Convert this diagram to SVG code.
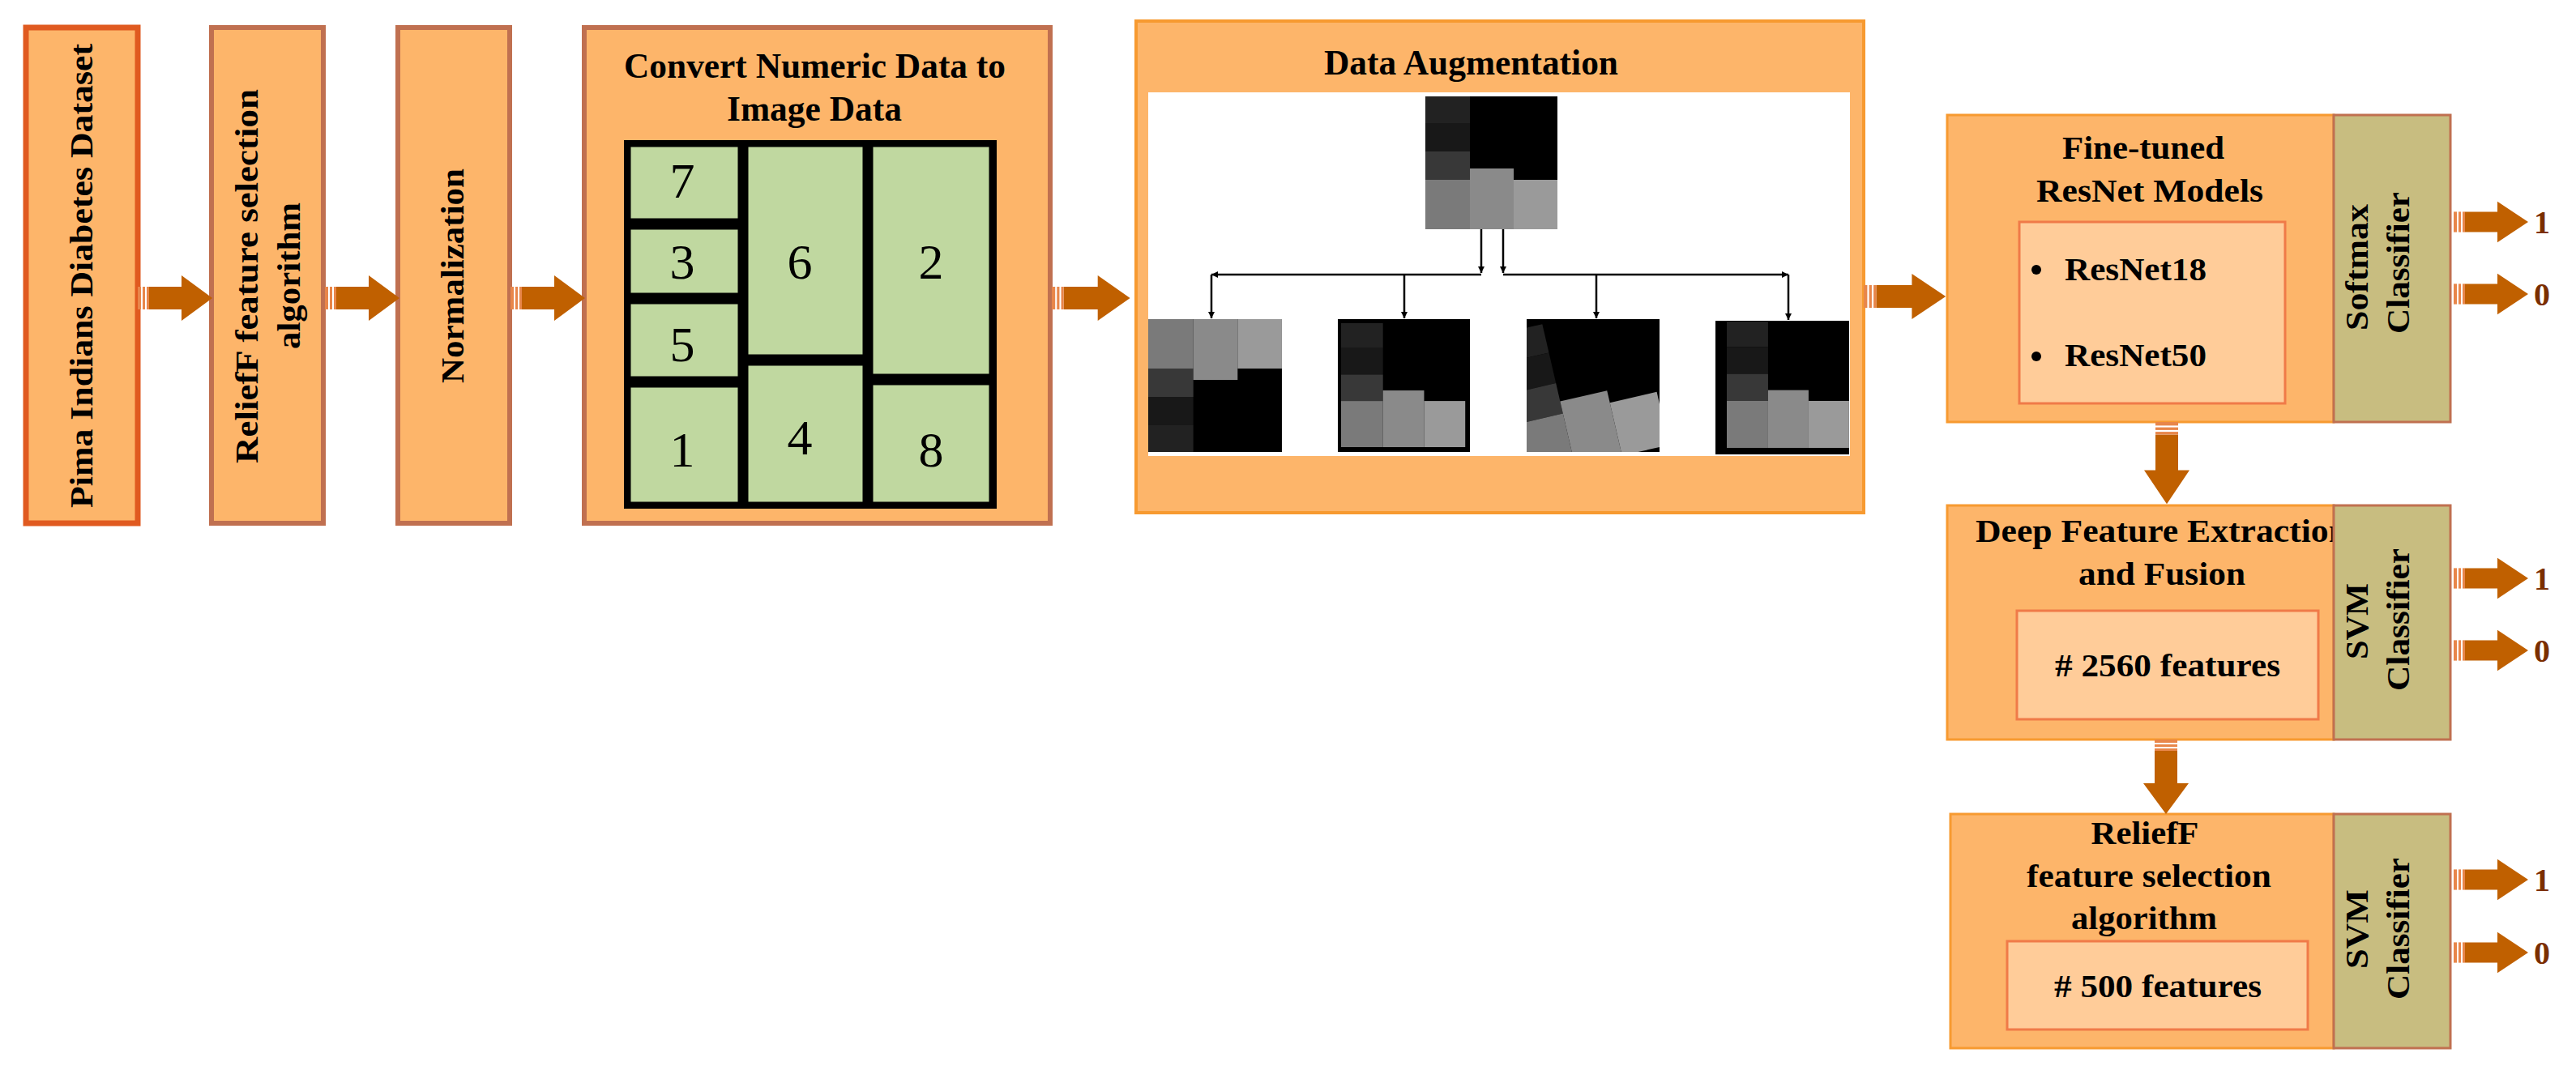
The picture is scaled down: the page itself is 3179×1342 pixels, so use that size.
<svg xmlns="http://www.w3.org/2000/svg" xmlns:xlink="http://www.w3.org/1999/xlink" width="3179" height="1342" viewBox="0 0 3179 1342">
<style>
.box{fill:#FDB56A}
.inner{fill:#FFCC99;stroke:#F07A48;stroke-width:3}
.cls{fill:#C8BD80;stroke:#C07050;stroke-width:3}
.t{font-family:"Liberation Serif",serif;font-weight:bold;fill:#000}
.cell{fill:#C0D8A0;stroke:#000;stroke-width:7}
.dig{font-family:"Liberation Serif",serif;font-size:62px;text-anchor:middle;fill:#000}
.lbl{font-family:"Liberation Serif",serif;font-weight:bold;font-size:40px;fill:#7B2E00}
.thin{stroke:#000;stroke-width:2.5;fill:none}
</style>
<defs>
<g id="ra">
<path d="M14,-14 H54 V-28 L92,0 L54,28 V14 H14 Z" fill="#C06000"/>
<rect x="0" y="-14" width="4" height="28" fill="#E8864A"/>
<rect x="6" y="-14" width="3" height="28" fill="#E8864A"/>
<rect x="11" y="-14" width="3" height="28" fill="#E8864A"/>
</g>
<g id="mos">
<rect x="0" y="0" width="163" height="164" fill="#000"/>
<rect x="0" y="0" width="55" height="33" fill="#222"/>
<rect x="0" y="33" width="55" height="35" fill="#181818"/>
<rect x="0" y="68" width="55" height="35" fill="#383838"/>
<rect x="0" y="103" width="55" height="61" fill="#7a7a7a"/>
<rect x="55" y="89" width="54" height="75" fill="#8a8a8a"/>
<rect x="109" y="103" width="54" height="61" fill="#9a9a9a"/>
</g>
<marker id="ah" viewBox="0 0 10 10" refX="10" refY="5" markerWidth="8" markerHeight="8" markerUnits="userSpaceOnUse" orient="auto"><path d="M0,0 L10,5 L0,10 Z" fill="#000"/></marker>
<clipPath id="c3"><rect x="1884" y="394" width="164" height="164"/></clipPath>
</defs>

<g id="n1">
<rect x="32" y="34" width="138" height="612" class="box" stroke="#E05A20" stroke-width="7"/>
<text class="t" font-size="40" transform="translate(114,627) rotate(-90)" textLength="573" lengthAdjust="spacingAndGlyphs">Pima Indians Diabetes Dataset</text>
</g>
<g id="n2">
<rect x="261" y="34" width="138" height="612" class="box" stroke="#C07050" stroke-width="6"/>
<text class="t" font-size="40" transform="translate(318,572) rotate(-90)" textLength="462" lengthAdjust="spacingAndGlyphs">ReliefF  feature selection</text>
<text class="t" font-size="40" transform="translate(370,431) rotate(-90)" textLength="181" lengthAdjust="spacingAndGlyphs">algorithm</text>
</g>
<g id="n3">
<rect x="491" y="34" width="138" height="612" class="box" stroke="#C07050" stroke-width="6"/>
<text class="t" font-size="40" transform="translate(572,473) rotate(-90)" textLength="265" lengthAdjust="spacingAndGlyphs">Normalization</text>
</g>
<g id="n4">
<rect x="721" y="34" width="575" height="612" class="box" stroke="#C07050" stroke-width="6"/>
<text class="t" font-size="44" x="770" y="96" textLength="471" lengthAdjust="spacingAndGlyphs">Convert Numeric Data to</text>
<text class="t" font-size="44" x="897" y="149" textLength="216" lengthAdjust="spacingAndGlyphs">Image Data</text>
<rect x="770" y="173" width="460" height="455" fill="#000"/>
<rect x="775" y="178" width="139" height="95" class="cell" stroke="none"/>
<rect x="775" y="280" width="139" height="85" class="cell" stroke="none"/>
<rect x="775" y="372" width="139" height="96" class="cell" stroke="none"/>
<rect x="775" y="475" width="139" height="148" class="cell" stroke="none"/>
<rect x="920" y="178" width="148" height="263" class="cell" stroke="none"/>
<rect x="920" y="448" width="148" height="175" class="cell" stroke="none"/>
<rect x="1074" y="178" width="150" height="287" class="cell" stroke="none"/>
<rect x="1074" y="472" width="150" height="151" class="cell" stroke="none"/>
<text class="dig" x="842" y="244">7</text>
<text class="dig" x="842" y="344">3</text>
<text class="dig" x="842" y="446">5</text>
<text class="dig" x="842" y="576">1</text>
<text class="dig" x="987" y="344">6</text>
<text class="dig" x="987" y="561">4</text>
<text class="dig" x="1149" y="344">2</text>
<text class="dig" x="1149" y="576">8</text>
</g>
<g id="n5">
<rect x="1402" y="26" width="898" height="607" class="box" stroke="#F79A30" stroke-width="4"/>
<text class="t" font-size="44" x="1634" y="92" textLength="363" lengthAdjust="spacingAndGlyphs">Data Augmentation</text>
<rect x="1417" y="114" width="866" height="449" fill="#fff"/>
<use xlink:href="#mos" transform="translate(1759,119)"/>
<use xlink:href="#mos" transform="translate(1417,558) scale(1.012,-1)"/>
<rect x="1651" y="394" width="163" height="164" fill="#000"/>
<use xlink:href="#mos" transform="translate(1655,399) scale(0.94,0.933)"/>
<rect x="1884" y="394" width="164" height="164" fill="#000"/>
<g clip-path="url(#c3)"><use xlink:href="#mos" transform="translate(1966,476) rotate(-13) scale(1.1) translate(-95,-80)"/></g>
<rect x="2117" y="396" width="165" height="165" fill="#000"/>
<use xlink:href="#mos" transform="translate(2131,397) scale(0.926,0.951)"/>
</g>
<g id="n6">
<rect x="2403" y="142" width="477" height="379" class="box" stroke="#F79A30" stroke-width="3"/>
<rect x="2880" y="142" width="144" height="379" class="cls"/>
<text class="t" font-size="40" x="2645" y="196" text-anchor="middle" textLength="200" lengthAdjust="spacingAndGlyphs">Fine-tuned</text>
<text class="t" font-size="40" x="2653" y="249" text-anchor="middle" textLength="280" lengthAdjust="spacingAndGlyphs">ResNet Models</text>
<rect x="2492" y="274" width="328" height="224" class="inner"/>
<circle cx="2513" cy="333" r="6" fill="#000"/>
<circle cx="2513" cy="440" r="6" fill="#000"/>
<text class="t" font-size="40" x="2548" y="346" textLength="175" lengthAdjust="spacingAndGlyphs">ResNet18</text>
<text class="t" font-size="40" x="2548" y="452" textLength="175" lengthAdjust="spacingAndGlyphs">ResNet50</text>
<text class="t" font-size="40" transform="translate(2922,408) rotate(-90)" textLength="156" lengthAdjust="spacingAndGlyphs">Softmax</text>
<text class="t" font-size="40" transform="translate(2973,412) rotate(-90)" textLength="175" lengthAdjust="spacingAndGlyphs">Classifier</text>
</g>
<g id="n7">
<rect x="2403" y="624" width="477" height="289" class="box" stroke="#F79A30" stroke-width="3"/>
<text class="t" font-size="40" x="2438" y="669" textLength="460" lengthAdjust="spacingAndGlyphs">Deep Feature Extraction</text>
<rect x="2880" y="624" width="144" height="289" class="cls"/>
<text class="t" font-size="40" x="2668" y="722" text-anchor="middle" textLength="206" lengthAdjust="spacingAndGlyphs">and Fusion</text>
<rect x="2489" y="754" width="372" height="134" class="inner"/>
<text class="t" font-size="40" x="2675" y="835" text-anchor="middle" textLength="278" lengthAdjust="spacingAndGlyphs"># 2560 features</text>
<text class="t" font-size="40" transform="translate(2922,814) rotate(-90)" textLength="94" lengthAdjust="spacingAndGlyphs">SVM</text>
<text class="t" font-size="40" transform="translate(2973,853) rotate(-90)" textLength="176" lengthAdjust="spacingAndGlyphs">Classifier</text>
</g>
<g id="n8">
<rect x="2407" y="1005" width="473" height="289" class="box" stroke="#F79A30" stroke-width="3"/>
<rect x="2880" y="1005" width="144" height="289" class="cls"/>
<text class="t" font-size="40" x="2647" y="1042" text-anchor="middle" textLength="133" lengthAdjust="spacingAndGlyphs">ReliefF</text>
<text class="t" font-size="40" x="2652" y="1095" text-anchor="middle" textLength="302" lengthAdjust="spacingAndGlyphs">feature selection</text>
<text class="t" font-size="40" x="2646" y="1147" text-anchor="middle" textLength="180" lengthAdjust="spacingAndGlyphs">algorithm</text>
<rect x="2477" y="1162" width="371" height="109" class="inner"/>
<text class="t" font-size="40" x="2663" y="1231" text-anchor="middle" textLength="256" lengthAdjust="spacingAndGlyphs"># 500 features</text>
<text class="t" font-size="40" transform="translate(2922,1196) rotate(-90)" textLength="98" lengthAdjust="spacingAndGlyphs">SVM</text>
<text class="t" font-size="40" transform="translate(2973,1234) rotate(-90)" textLength="175" lengthAdjust="spacingAndGlyphs">Classifier</text>
</g>

<g id="connectors">
<use xlink:href="#ra" transform="translate(170,368)"/>
<use xlink:href="#ra" transform="translate(401,368)"/>
<use xlink:href="#ra" transform="translate(630,368)"/>
<use xlink:href="#ra" transform="translate(1298,368) scale(1.05,1)"/>
<use xlink:href="#ra" transform="translate(2300,366) scale(1.1,1)"/>
<use xlink:href="#ra" transform="translate(2674,521) rotate(90) scale(1.1,1)"/>
<use xlink:href="#ra" transform="translate(2673,913) rotate(90)"/>
<use xlink:href="#ra" transform="translate(3028,274) scale(1,0.9)"/>
<use xlink:href="#ra" transform="translate(3028,363) scale(1,0.9)"/>
<use xlink:href="#ra" transform="translate(3028,714) scale(1,0.9)"/>
<use xlink:href="#ra" transform="translate(3028,803) scale(1,0.9)"/>
<use xlink:href="#ra" transform="translate(3028,1086) scale(1,0.9)"/>
<use xlink:href="#ra" transform="translate(3028,1176) scale(1,0.9)"/>
<path class="thin" d="M1828,283 V337" marker-end="url(#ah)"/>
<path class="thin" d="M1855,283 V337" marker-end="url(#ah)"/>
<path class="thin" d="M1828,339 H1495" marker-end="url(#ah)"/>
<path class="thin" d="M1855,339 H2207" marker-end="url(#ah)"/>
<path class="thin" d="M1495,339 V393" marker-end="url(#ah)"/>
<path class="thin" d="M1733,339 V393" marker-end="url(#ah)"/>
<path class="thin" d="M1970,339 V393" marker-end="url(#ah)"/>
<path class="thin" d="M2207,339 V395" marker-end="url(#ah)"/>
<text class="lbl" x="3127" y="288">1</text>
<text class="lbl" x="3127" y="377">0</text>
<text class="lbl" x="3127" y="728">1</text>
<text class="lbl" x="3127" y="817">0</text>
<text class="lbl" x="3127" y="1100">1</text>
<text class="lbl" x="3127" y="1190">0</text>
</g>
</svg>
